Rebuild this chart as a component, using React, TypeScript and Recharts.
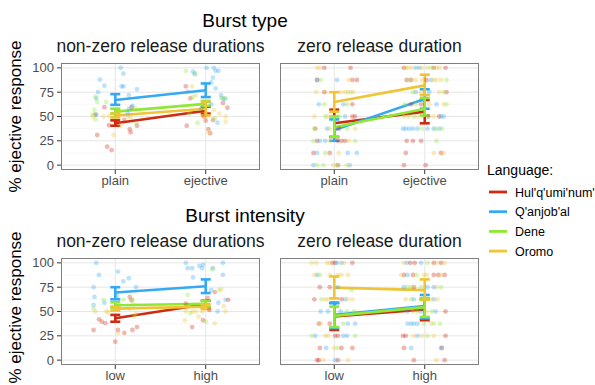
import React from 'react';
import { ComposedChart, Scatter, Line, ErrorBar, XAxis, YAxis, CartesianGrid } from 'recharts';

const LANGS = ["Hul'q'umi'num'", "Q'anjob'al", 'Dene', 'Oromo'];
const COLORS = ['#CD2B12', '#35A9F2', '#8FE836', '#EFC436'];
const Y_TICKS = [0, 25, 50, 75, 100];
const Y_MINOR = [12.5, 37.5, 62.5, 87.5];
const TYPE_LABELS = ['plain', 'ejective'];
const INTENSITY_LABELS = ['low', 'high'];

// Burst type, non-zero release durations: [x (category + jitter), % ejective]
const btNzHul = [[0.88, 59.5], [0.93, 41], [0.8, 31], [0.91, 19], [0.96, 15.5], [1.16, 37], [1.17, 33.7], [1.24, 40.5], [1.1, 46.4], [1.0, 45], [1.18, 59.5], [0.78, 52], [1.78, 81], [1.79, 40.5], [1.83, 68.7], [2.03, 37], [2.05, 32.7], [2.08, 46.4], [2.24, 59], [2.19, 64], [1.98, 50], [2.0, 45.7]];
const btNzQan = [[1.06, 100], [1.09, 94], [0.83, 88], [0.88, 81.6], [1.07, 81], [1.09, 81], [1.24, 78], [0.79, 68.7], [1.15, 72], [0.81, 75], [1.19, 61], [0.79, 52], [1.15, 58], [1.14, 53], [1.86, 96], [1.88, 93.5], [2.01, 100], [2.09, 100], [2.11, 97], [2.14, 97], [2.08, 90], [2.06, 85], [2.11, 79], [2.17, 72], [2.19, 68.7], [2.21, 68], [2.06, 62.5], [2.13, 43.6], [1.95, 58.4], [1.8, 75.6]];
const btNzDene = [[0.78, 70.4], [0.8, 65], [0.77, 56.7], [0.78, 47], [0.9, 65], [0.98, 52], [1.22, 58.4], [1.23, 43], [0.75, 52], [1.78, 97], [1.88, 94.5], [1.86, 70], [1.91, 43.6], [2.17, 69], [2.22, 68.7], [2.1, 48], [1.82, 53]];
const btNzOro = [[0.75, 50], [0.87, 50], [0.98, 31], [1.03, 55], [1.17, 49], [1.14, 50], [1.06, 41], [0.93, 50.5], [1.85, 81], [1.89, 72], [2.0, 50], [2.03, 33.7], [2.22, 50], [2.15, 53], [2.0, 53], [2.22, 44.7], [2.09, 56.5]];
const btNzMean = [[43, 56], [67, 77], [55, 63], [51, 58]];
const btNzLo = [[40.5, 53], [62, 70], [53, 61], [49, 51]];
const btNzHi = [[46, 60], [73, 84], [58, 66], [53, 65]];

// Burst type, zero release duration
const btZHul = [[0.89, 100], [1.18, 100], [0.81, 87.5], [1.2, 87.5], [1.25, 87.5], [0.89, 75], [1.2, 62.5], [1.2, 50], [1.23, 50], [0.79, 37.5], [1.05, 37.5], [0.81, 25], [1.04, 25], [1.08, 25], [1.12, 25], [0.77, 12.5], [0.95, 12.5], [1.04, 0], [1.77, 100], [2.1, 100], [2.23, 100], [1.8, 87.5], [1.85, 87.5], [2.02, 87.5], [2.24, 75], [1.85, 62.5], [1.96, 62.5], [2.04, 50], [2.16, 50], [1.8, 25], [1.87, 25], [1.96, 25], [1.79, 12.5], [2.18, 12.5], [1.77, 0], [2.01, 0]];
const btZQan = [[0.81, 87.5], [1.03, 87.5], [0.83, 62.5], [1.1, 62.5], [1.12, 50], [0.92, 37.5], [0.84, 25], [0.9, 25], [0.81, 12.5], [1.15, 12.5], [1.25, 12.5], [0.77, 0], [1.17, 0], [1.9, 100], [1.94, 100], [2.07, 87.5], [1.9, 75], [2.05, 75], [2.13, 62.5], [2.18, 50], [2.21, 50], [1.76, 37.5], [1.79, 37.5], [1.83, 37.5], [1.87, 37.5], [1.92, 37.5], [2.03, 37.5], [2.1, 37.5], [2.16, 37.5]];
const btZDene = [[0.85, 87.5], [1.18, 75], [0.89, 62.5], [1.14, 62.5], [0.9, 50], [1.06, 50], [0.78, 37.5], [1.14, 37.5], [0.77, 25], [1.23, 25], [0.9, 12.5], [0.81, 0], [0.88, 0], [1.03, 0], [2.07, 100], [1.83, 87.5], [2.24, 87.5], [1.87, 75], [2.21, 75], [1.78, 62.5], [1.9, 62.5], [2.24, 62.5], [1.88, 50], [1.97, 37.5], [2.12, 37.5], [2.19, 37.5], [2.13, 25]];
const btZOro = [[0.81, 100], [0.84, 100], [1.16, 87.5], [0.8, 75], [0.9, 75], [1.07, 75], [1.12, 75], [1.15, 75], [1.21, 75], [0.78, 50], [0.93, 50], [0.95, 37.5], [1.23, 37.5], [0.95, 25], [1.16, 25], [1.05, 12.5], [0.99, 0], [1.14, 0], [1.79, 100], [1.81, 100], [1.85, 100], [1.97, 100], [2.03, 100], [2.13, 100], [2.16, 100], [1.9, 87.5], [1.97, 87.5], [2.1, 87.5], [2.13, 87.5], [2.18, 87.5], [1.96, 75], [2.16, 75], [2.05, 62.5], [2.21, 62.5], [1.77, 50], [1.82, 50], [1.92, 50], [2.1, 50], [2.1, 12.5], [2.21, 12.5]];
const btZMean = [[43, 55], [36, 68], [39, 58], [65, 82]];
const btZLo = [[29, 43], [25, 58], [29, 51], [55, 72]];
const btZHi = [[57, 67], [47, 78], [50, 69], [75, 93]];

// Burst intensity, non-zero release durations
const biNzHul = [[0.76, 31], [0.82, 42], [0.85, 39.5], [0.89, 38], [1.0, 19], [1.03, 31], [1.1, 28], [1.19, 31], [1.24, 34], [1.16, 65], [1.18, 61.5], [1.85, 34], [1.97, 41], [2.04, 51.5], [2.25, 62], [2.1, 70], [1.78, 58], [2.02, 64]];
const biNzQan = [[0.79, 100], [0.82, 87.6], [0.76, 75], [1.03, 91], [1.09, 81], [1.15, 84.2], [1.23, 75], [0.77, 65], [1.02, 66], [0.88, 59], [0.76, 56.7], [1.78, 100], [1.8, 94.5], [1.85, 94.5], [1.93, 97], [1.97, 98], [1.96, 94.5], [2.08, 94.5], [2.19, 100], [2.19, 87.6], [1.86, 85], [2.06, 72], [2.14, 59], [2.22, 62], [2.13, 50]];
const biNzDene = [[0.76, 53], [0.87, 62], [1.09, 62], [1.19, 62.5], [1.2, 57], [1.21, 45], [1.8, 67], [1.83, 48], [2.0, 39.5], [2.07, 93.5], [2.15, 72]];
const biNzOro = [[0.78, 50], [0.9, 50], [1.03, 28], [1.23, 48], [1.16, 53], [0.92, 49], [1.77, 41], [1.92, 44.7], [2.1, 37.8], [2.17, 72.8], [2.2, 55.6], [1.78, 50], [1.85, 50], [1.89, 50], [1.96, 50], [2.22, 50]];
const biNzMean = [[43, 57.5], [69.5, 76], [56.5, 58], [53, 55]];
const biNzLo = [[39.5, 54], [62.5, 69], [54, 55], [51, 52.5]];
const biNzHi = [[46.5, 61], [75, 83], [59.5, 61], [55, 57.5]];

// Burst intensity, zero release duration
const biZHul = [[0.98, 100], [1.01, 100], [1.2, 100], [0.84, 75], [0.95, 75], [0.78, 62.5], [1.08, 62.5], [0.83, 37.5], [0.95, 37.5], [1.01, 25], [1.04, 25], [0.84, 12.5], [1.08, 12.5], [1.2, 12.5], [0.81, 0], [0.83, 0], [1.04, 0], [1.84, 100], [1.89, 100], [2.1, 100], [2.18, 100], [1.77, 87.5], [1.87, 87.5], [2.1, 87.5], [2.15, 87.5], [2.22, 87.5], [1.88, 75], [2.23, 50], [1.76, 25], [1.79, 25], [2.23, 25], [1.77, 12.5], [2.19, 12.5], [1.88, 0], [2.22, 0]];
const biZQan = [[1.03, 100], [1.08, 100], [0.81, 87.5], [1.04, 75], [1.12, 62.5], [0.85, 50], [0.93, 50], [1.07, 50], [1.15, 37.5], [1.23, 37.5], [0.79, 25], [1.1, 25], [1.14, 25], [0.91, 12.5], [1.01, 0], [1.8, 100], [1.96, 100], [1.81, 87.5], [1.77, 75], [2.03, 75], [2.1, 75], [1.88, 62.5], [2.1, 62.5], [1.81, 50], [1.96, 50], [2.12, 50], [1.81, 37.5], [1.85, 37.5], [1.88, 37.5], [1.92, 37.5], [1.92, 25], [1.85, 12.5], [2.18, 12.5]];
const biZDene = [[0.84, 87.5], [1.19, 72], [0.86, 62.5], [1.14, 50], [1.22, 50], [1.1, 37.5], [0.75, 25], [1.23, 25], [1.04, 12.5], [2.03, 100], [1.91, 87.5], [1.81, 75], [1.85, 75], [1.96, 75], [2.18, 75], [1.85, 62.5], [1.96, 62.5], [1.92, 50], [2.08, 50], [1.99, 37.5], [2.1, 37.5], [2.17, 37.5], [2.03, 25]];
const biZOro = [[0.75, 100], [0.8, 100], [0.92, 100], [0.95, 100], [1.11, 100], [0.78, 87.5], [0.95, 87.5], [1.04, 87.5], [1.08, 87.5], [1.15, 87.5], [0.9, 62.5], [0.93, 62.5], [1.15, 62.5], [1.2, 62.5], [0.85, 37.5], [0.9, 25], [0.93, 25], [1.0, 12.5], [0.88, 0], [1.15, 0], [1.77, 100], [2.13, 100], [2.22, 100], [1.74, 87.5], [1.99, 87.5], [2.02, 87.5], [2.18, 87.5], [2.13, 75], [1.79, 62.5], [2.07, 62.5], [2.14, 62.5], [1.87, 50], [2.02, 50], [2.07, 37.5], [1.88, 25], [1.97, 25], [2.1, 25], [2.13, 0]];
const biZMean = [[45, 52], [46.5, 55.5], [45.5, 54.5], [74.5, 72]];
const biZLo = [[31, 41], [33, 43], [34, 44.5], [63.5, 62]];
const biZHi = [[59, 63], [58.5, 67], [55, 63.5], [86, 83]];

const FONT = '"Liberation Sans", Arial, Helvetica, sans-serif';
const PW = 199;
const PH = 107;
const YW = 52;
const XH = 22;
const MT = 8; // room above the plot so the "100" label is not clipped

type PanelProps = {
  left: number;
  top: number;
  showY: boolean;
  labels: string[];
  points: number[][][];
  means: number[][];
  lo: number[][];
  hi: number[][];
};

function Panel({ left, top, showY, labels, points, means, lo, hi }: PanelProps) {
  const w = (showY ? YW : 0) + PW + 2;
  const h = MT + PH + XH;
  const tickStyle = { fill: '#4d4d4d', fontSize: 13, fontFamily: FONT };
  return (
    <>
      <div style={{ position: 'absolute', left: left - 1 - (showY ? YW : 0), top: top - MT }}>
        <ComposedChart width={w} height={h} margin={{ top: MT, right: 1, bottom: 0, left: 1 }}>
          <CartesianGrid horizontalValues={Y_MINOR} vertical={false} stroke="#f2f2f2" strokeWidth={0.6} />
          <CartesianGrid horizontalValues={Y_TICKS} verticalValues={[1, 2]} stroke="#e6e6e6" strokeWidth={1} />
          <XAxis
            type="number"
            dataKey="x"
            domain={[0.4, 2.6]}
            ticks={[1, 2]}
            interval={0}
            allowDataOverflow
            tickFormatter={(v: number) => labels[Math.round(v) - 1]}
            axisLine={false}
            tickSize={4}
            tickMargin={2}
            height={XH}
            tick={tickStyle}
            tickLine={{ stroke: '#333' }}
          />
          <YAxis
            type="number"
            dataKey="y"
            domain={[-5, 105]}
            ticks={Y_TICKS}
            interval={0}
            allowDataOverflow
            hide={!showY}
            width={YW}
            axisLine={false}
            tickSize={4}
            tickMargin={3}
            tick={tickStyle}
            tickLine={{ stroke: '#333' }}
          />
          {points.map((pts, i) => (
            <Scatter
              key={'s' + i}
              data={pts.map(([x, y]) => ({ x, y }))}
              fill={COLORS[i]}
              isAnimationActive={false}
              shape={(p: any) => <circle cx={p.cx} cy={p.cy} r={2.4} fill={COLORS[i]} fillOpacity={0.33} />}
            />
          ))}
          {means.map((m, i) => (
            <Line
              key={'l' + i}
              data={m.map((v, j) => ({ x: j + 1, y: v, err: [v - lo[i][j], hi[i][j] - v] }))}
              dataKey="y"
              type="linear"
              stroke={COLORS[i]}
              strokeWidth={2.6}
              dot={false}
              activeDot={false}
              isAnimationActive={false}
            >
              <ErrorBar dataKey="err" width={5} strokeWidth={2.6} stroke={COLORS[i]} direction="y" />
            </Line>
          ))}
        </ComposedChart>
      </div>
      <div
        style={{
          position: 'absolute',
          left,
          top,
          width: PW,
          height: PH,
          border: '1px solid #7f7f7f',
          boxSizing: 'border-box',
          pointerEvents: 'none',
        }}
      />
    </>
  );
}

const App: React.FC = () => {
  return (
    <div style={{ position: 'absolute', left: 0, top: 0, width: 595, height: 385, background: '#fff', overflow: 'hidden' }}>
      <Panel left={61} top={63} showY labels={TYPE_LABELS} points={[btNzHul, btNzQan, btNzDene, btNzOro]} means={btNzMean} lo={btNzLo} hi={btNzHi} />
      <Panel left={280} top={63} showY={false} labels={TYPE_LABELS} points={[btZHul, btZQan, btZDene, btZOro]} means={btZMean} lo={btZLo} hi={btZHi} />
      <Panel left={61} top={258} showY labels={INTENSITY_LABELS} points={[biNzHul, biNzQan, biNzDene, biNzOro]} means={biNzMean} lo={biNzLo} hi={biNzHi} />
      <Panel left={280} top={258} showY={false} labels={INTENSITY_LABELS} points={[biZHul, biZQan, biZDene, biZOro]} means={biZMean} lo={biZLo} hi={biZHi} />

      <svg width={595} height={385} style={{ position: 'absolute', left: 0, top: 0, pointerEvents: 'none' }} fontFamily={FONT}>
        <text x={245} y={27} fontSize={19} textAnchor="middle" fill="#000">Burst type</text>
        <text x={160.5} y={52} fontSize={17.5} textAnchor="middle" fill="#1a1a1a">non-zero release durations</text>
        <text x={379.5} y={52} fontSize={17.5} textAnchor="middle" fill="#1a1a1a">zero release duration</text>
        <text x={245} y={222} fontSize={19} textAnchor="middle" fill="#000">Burst intensity</text>
        <text x={160.5} y={247} fontSize={17.5} textAnchor="middle" fill="#1a1a1a">non-zero release durations</text>
        <text x={379.5} y={247} fontSize={17.5} textAnchor="middle" fill="#1a1a1a">zero release duration</text>
        <text transform="translate(21,116.5) rotate(-90)" fontSize={17} textAnchor="middle" fill="#000">% ejective response</text>
        <text transform="translate(21,307.5) rotate(-90)" fontSize={17} textAnchor="middle" fill="#000">% ejective response</text>

        <text x={487} y={175} fontSize={14} fill="#000">Language:</text>
        {LANGS.map((name, i) => (
          <g key={name}>
            <line x1={489} x2={507} y1={192 + i * 19.7} y2={192 + i * 19.7} stroke={COLORS[i]} strokeWidth={2.8} />
            <text x={515} y={196.5 + i * 19.7} fontSize={12.5} fill="#000">{name}</text>
          </g>
        ))}
      </svg>
    </div>
  );
};

export default App;
